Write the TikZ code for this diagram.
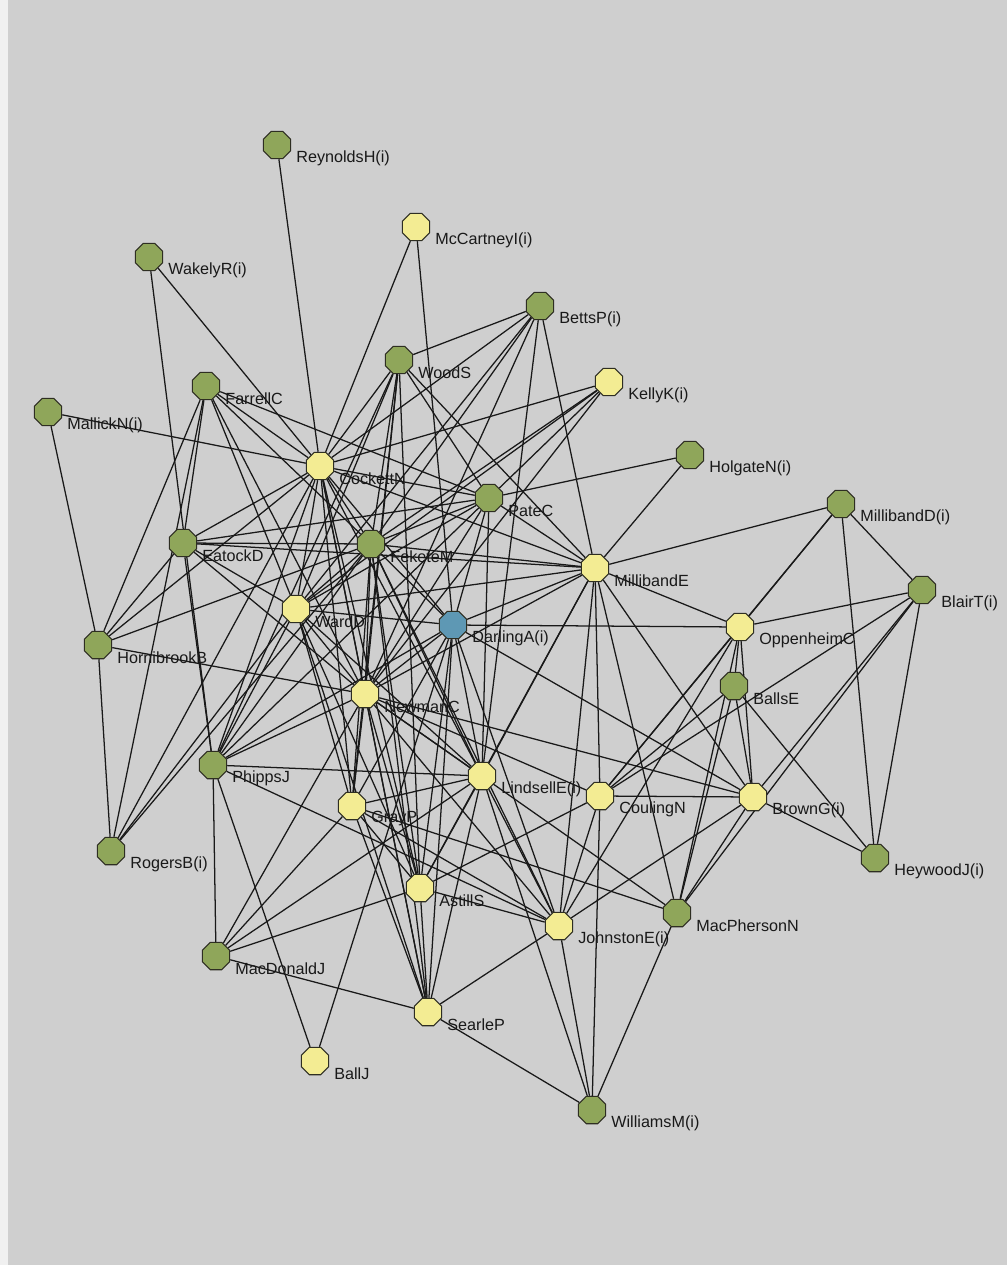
\documentclass[tikz,border=0pt]{standalone}
\usepackage{fontspec}
\setmainfont{Liberation Sans}
\usetikzlibrary{shapes.geometric,backgrounds}
\definecolor{canvas}{HTML}{CFCFCF}
\definecolor{leafgreen}{HTML}{8FA65A}
\definecolor{paleyellow}{HTML}{F3EC93}
\definecolor{steelblue}{HTML}{5E98B4}
\definecolor{rim}{HTML}{2E2E22}
\tikzset{
  actor/.style={regular polygon,regular polygon sides=8,minimum size=0.74cm,inner sep=0pt,
    draw=rim,line width=0.8pt},
  member/.style={actor,fill=leafgreen},
  staff/.style={actor,fill=paleyellow},
  focal/.style={actor,fill=steelblue},
  lbl/.style={anchor=west,inner sep=0.5pt,font=\fontsize{11.5}{12}\selectfont,text=black!90,
    xshift=4pt,yshift=-4pt},
  tie/.style={draw=black!90,line width=0.9pt}
}

\begin{document}
\begin{tikzpicture}[x=0.025cm,y=-0.025cm]
  \useasboundingbox (0,0) rectangle (1007,1265);

  % people
  \node[member] (reynolds)   at (277,145)  [label={[lbl]-30:ReynoldsH(i)}] {};
  \node[staff]  (mccartney)  at (416,227)  [label={[lbl]-30:McCartneyI(i)}] {};
  \node[member] (wakely)     at (149,257)  [label={[lbl]-30:WakelyR(i)}] {};
  \node[member] (betts)      at (540,306)  [label={[lbl]-30:BettsP(i)}] {};
  \node[member] (wood)       at (399,360)  [label={[lbl]-30:WoodS}] {};
  \node[member] (farrell)    at (206,386)  [label={[lbl]-30:FarrellC}] {};
  \node[staff]  (kelly)      at (609,382)  [label={[lbl]-30:KellyK(i)}] {};
  \node[member] (mallick)    at (48,412)   [label={[lbl]-30:MallickN(i)}] {};
  \node[staff]  (cockett)    at (320,466)  [label={[lbl]-30:CockettN}] {};
  \node[member] (holgate)    at (690,455)  [label={[lbl]-30:HolgateN(i)}] {};
  \node[member] (pate)       at (489,498)  [label={[lbl]-30:PateC}] {};
  \node[member] (milD)       at (841,504)  [label={[lbl]-30:MillibandD(i)}] {};
  \node[member] (eatock)     at (183,543)  [label={[lbl]-30:EatockD}] {};
  \node[member] (fekete)     at (371,544)  [label={[lbl]-30:FeketeM}] {};
  \node[staff]  (milE)       at (595,568)  [label={[lbl]-30:MillibandE}] {};
  \node[member] (blair)      at (922,590)  [label={[lbl]-30:BlairT(i)}] {};
  \node[staff]  (ward)       at (296,609)  [label={[lbl]-30:WardD}] {};
  \node[focal]  (darling)    at (453,625)  [label={[lbl]-30:DarlingA(i)}] {};
  \node[staff]  (oppenheim)  at (740,627)  [label={[lbl]-30:OppenheimC}] {};
  \node[member] (hornibrook) at (98,645)   [label={[lbl]-30:HornibrookB}] {};
  \node[member] (balls)      at (734,686)  [label={[lbl]-30:BallsE}] {};
  \node[staff]  (newman)     at (365,694)  [label={[lbl]-30:NewmanC}] {};
  \node[member] (phipps)     at (213,765)  [label={[lbl]-30:PhippsJ}] {};
  \node[staff]  (lindsell)   at (482,776)  [label={[lbl]-30:LindsellE(i)}] {};
  \node[staff]  (couling)    at (600,796)  [label={[lbl]-30:CoulingN}] {};
  \node[staff]  (brown)      at (753,797)  [label={[lbl]-30:BrownG(i)}] {};
  \node[staff]  (gray)       at (352,806)  [label={[lbl]-30:GrayP}] {};
  \node[member] (rogers)     at (111,851)  [label={[lbl]-30:RogersB(i)}] {};
  \node[member] (heywood)    at (875,858)  [label={[lbl]-30:HeywoodJ(i)}] {};
  \node[staff]  (astill)     at (420,888)  [label={[lbl]-30:AstillS}] {};
  \node[staff]  (johnston)   at (559,926)  [label={[lbl]-30:JohnstonE(i)}] {};
  \node[member] (macpherson) at (677,913)  [label={[lbl]-30:MacPhersonN}] {};
  \node[member] (macdonald)  at (216,956)  [label={[lbl]-30:MacDonaldJ}] {};
  \node[staff]  (searle)     at (428,1012) [label={[lbl]-30:SearleP}] {};
  \node[staff]  (ball)       at (315,1061) [label={[lbl]-30:BallJ}] {};
  \node[member] (williams)   at (592,1110) [label={[lbl]-30:WilliamsM(i)}] {};

  \begin{pgfonlayer}{background}
    \fill[canvas] (0,0) rectangle (1007,1265);
    \fill[black!6] (0,0) rectangle (8,1265);
    % ties
    \foreach \src/\dsts in {
      reynolds/{cockett},
      wakely/{cockett,phipps},
      mccartney/{cockett,darling},
      betts/{wood,fekete,milE,cockett,ward,lindsell,newman},
      wood/{cockett,fekete,ward,newman,phipps,milE,pate,gray,astill},
      farrell/{cockett,fekete,ward,newman,hornibrook,eatock,rogers,pate},
      kelly/{fekete,ward,newman,pate,cockett},
      mallick/{hornibrook,cockett},
      cockett/{eatock,hornibrook,fekete,ward,newman,phipps,gray,astill,searle,milE,pate,darling,lindsell,rogers},
      holgate/{pate,milE},
      pate/{fekete,lindsell,ward,milE,darling,eatock,newman,phipps},
      milD/{milE,blair,heywood,oppenheim,couling},
      eatock/{fekete,hornibrook,newman,ward,milE,phipps},
      fekete/{ward,newman,darling,milE,gray,astill,searle,lindsell,phipps,rogers,johnston,hornibrook},
      milE/{oppenheim,ward,newman,couling,johnston,brown,macpherson,lindsell,astill,darling},
      blair/{oppenheim,heywood,brown,couling,macpherson},
      ward/{darling,newman,gray,astill,searle,phipps,rogers,lindsell},
      darling/{oppenheim,newman,lindsell,gray,astill,johnston,brown,phipps,ball,searle},
      oppenheim/{balls,couling,johnston,brown,macpherson},
      hornibrook/{rogers,newman},
      balls/{brown,heywood,macpherson,couling},
      newman/{lindsell,gray,astill,searle,johnston,couling,brown,phipps,macdonald,macpherson},
      phipps/{macdonald,ball,johnston,lindsell},
      lindsell/{gray,astill,johnston,searle,williams,macdonald},
      couling/{brown,williams,johnston,astill},
      brown/{heywood,macpherson,johnston},
      gray/{astill,searle,johnston,macpherson,macdonald},
      astill/{searle,johnston,macdonald},
      johnston/{williams,searle},
      macdonald/{searle},
      searle/{williams},
      williams/{macpherson}}
      {\foreach \dst in \dsts \draw[tie] (\src) -- (\dst);}
  \end{pgfonlayer}
\end{tikzpicture}
\end{document}
